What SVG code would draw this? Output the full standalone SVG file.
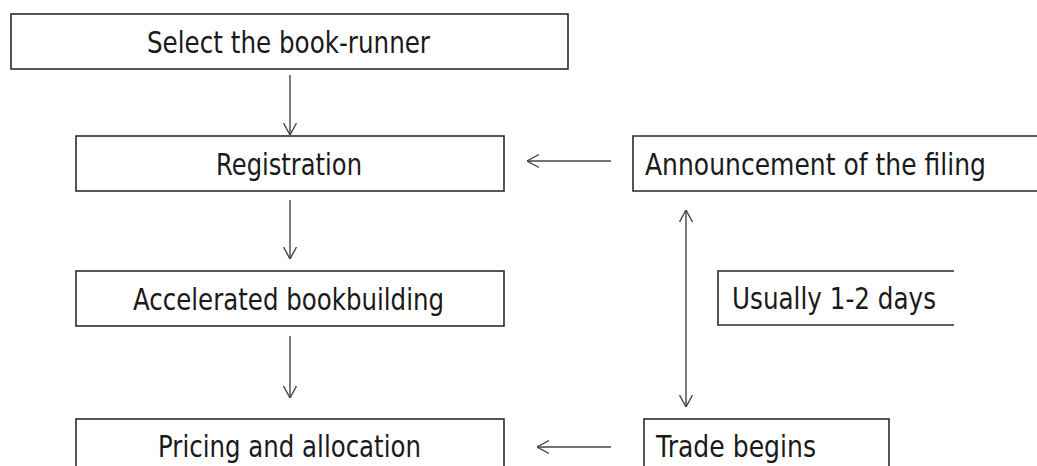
<svg xmlns="http://www.w3.org/2000/svg" width="1037" height="466" viewBox="0 0 1037 466">
  <style>
    .box { fill: #ffffff; stroke: #2b2b2b; stroke-width: 1.6; }
    .lbl { font-family: "DejaVu Sans", "Liberation Sans", sans-serif; font-size: 30px; fill: #1a1a1a; }
    .conn { fill: none; stroke: #444444; stroke-width: 1.4; }
  </style>
  <defs>
    <marker id="head" viewBox="0 0 12 16" refX="12" refY="8" markerWidth="12" markerHeight="16" markerUnits="userSpaceOnUse" orient="auto-start-reverse">
      <path d="M0,1.5 L12,8 L0,14.5" fill="none" stroke="#444444" stroke-width="1.4"/>
    </marker>
  </defs>
  <rect width="1037" height="466" fill="#ffffff"/>

  <g id="select-bookrunner">
    <rect class="box" x="11" y="14" width="557" height="55"/>
    <text class="lbl" x="147" y="53" textLength="283" lengthAdjust="spacingAndGlyphs">Select the book-runner</text>
  </g>

  <g id="registration">
    <rect class="box" x="76" y="136" width="428" height="55"/>
    <text class="lbl" x="216" y="175" textLength="146" lengthAdjust="spacingAndGlyphs">Registration</text>
  </g>

  <g id="accelerated-bookbuilding">
    <rect class="box" x="76" y="271" width="428" height="55"/>
    <text class="lbl" x="133" y="310" textLength="311" lengthAdjust="spacingAndGlyphs">Accelerated bookbuilding</text>
  </g>

  <g id="pricing-allocation">
    <rect class="box" x="76" y="419" width="428" height="60"/>
    <text class="lbl" x="158" y="457" textLength="263" lengthAdjust="spacingAndGlyphs">Pricing and allocation</text>
  </g>

  <!-- box runs on past the right edge, so only three sides are drawn -->
  <g id="announcement">
    <path class="box" d="M1037,136 H633 V191 H1037"/>
    <text class="lbl" x="645" y="175" textLength="341" lengthAdjust="spacingAndGlyphs">Announcement of the filing</text>
  </g>

  <g id="usually-days">
    <path class="box" d="M954,271 H718 V325 H954"/>
    <text class="lbl" x="732" y="309" textLength="204" lengthAdjust="spacingAndGlyphs">Usually 1-2 days</text>
  </g>

  <g id="trade-begins">
    <rect class="box" x="644" y="419" width="245" height="60"/>
    <text class="lbl" x="656" y="457" textLength="160" lengthAdjust="spacingAndGlyphs">Trade begins</text>
  </g>

  <g id="connectors">
    <line class="conn" x1="290" y1="75" x2="290" y2="135" marker-end="url(#head)"/>
    <line class="conn" x1="290" y1="200" x2="290" y2="259" marker-end="url(#head)"/>
    <line class="conn" x1="290" y1="336" x2="290" y2="398" marker-end="url(#head)"/>
    <line class="conn" x1="611" y1="161" x2="527" y2="161" marker-end="url(#head)"/>
    <line class="conn" x1="611" y1="447" x2="537" y2="447" marker-end="url(#head)"/>
    <line class="conn" x1="686" y1="210" x2="686" y2="407" marker-start="url(#head)" marker-end="url(#head)"/>
  </g>
</svg>
